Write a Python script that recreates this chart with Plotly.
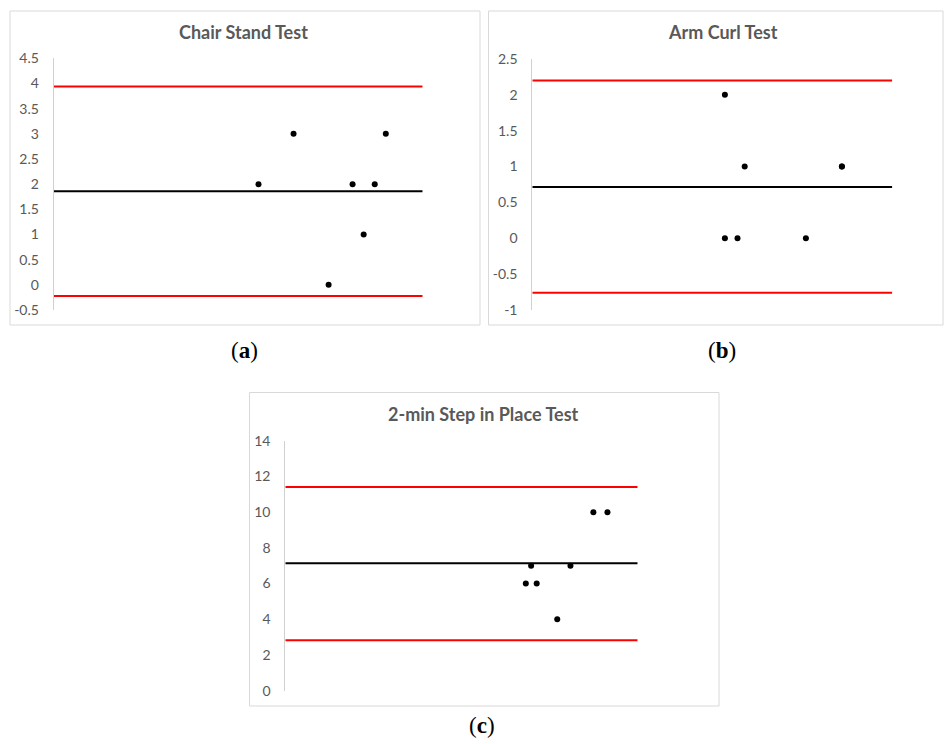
import plotly.graph_objects as go

W, H = 944, 744

# ---------------- data ----------------
titles = ["Chair Stand Test", "Arm Curl Test", "2-min Step in Place Test"]
captions = ["a", "b", "c"]

# (a) Chair Stand Test
a_mean = [11.1, 13.0, 14.9, 16.2, 16.8, 17.4, 18.0]
a_diff = [2, 3, 0, 2, 1, 2, 3]
a_bias = 1.857
a_upper = 3.94
a_lower = -0.22
a_xrange = [0, 20]
a_ticks = [-0.5, 0, 0.5, 1, 1.5, 2, 2.5, 3, 3.5, 4, 4.5]
a_ticktext = ["-0.5", "0", "0.5", "1", "1.5", "2", "2.5", "3", "3.5", "4", "4.5"]

# (b) Arm Curl Test
b_mean = [10.7, 11.8, 17.2, 17.2, 10.7, 11.4, 15.2]
b_diff = [2, 1, 1, 1, 0, 0, 0]
b_bias = 0.714
b_upper = 2.20
b_lower = -0.76
b_xrange = [0, 20]
b_ticks = [-1, -0.5, 0, 0.5, 1, 1.5, 2, 2.5]
b_ticktext = ["-1", "-0.5", "0", "0.5", "1", "1.5", "2", "2.5"]

# (c) 2-min Step in Place Test
c_mean = [81.9, 83.7, 85.6, 92.6, 97.1, 104.9, 109.7]
c_diff = [6, 7, 6, 4, 7, 10, 10]
c_bias = 7.14
c_upper = 11.41
c_lower = 2.82
c_xrange = [0, 120]
c_ticks = [0, 2, 4, 6, 8, 10, 12, 14]
c_ticktext = ["0", "2", "4", "6", "8", "10", "12", "14"]

# ---------------- layout geometry (pixels) ----------------
panels = [
    dict(mean=a_mean, diff=a_diff, bias=a_bias, up=a_upper, lo=a_lower, xr=a_xrange,
         ticks=a_ticks, tt=a_ticktext,
         plot=(53.7, 422.7, 58.3, 310.0), box=(10, 480, 11, 325), title_xy=(244, 32),
         cap_xy=(245, 350)),
    dict(mean=b_mean, diff=b_diff, bias=b_bias, up=b_upper, lo=b_lower, xr=b_xrange,
         ticks=b_ticks, tt=b_ticktext,
         plot=(532.3, 892.3, 59.0, 310.0), box=(488.5, 943, 11, 325), title_xy=(723, 32),
         cap_xy=(722, 350)),
    dict(mean=c_mean, diff=c_diff, bias=c_bias, up=c_upper, lo=c_lower, xr=c_xrange,
         ticks=c_ticks, tt=c_ticktext,
         plot=(285.3, 637.7, 440.7, 690.7), box=(249.5, 719, 392.5, 706), title_xy=(484, 414),
         cap_xy=(482, 725)),
]

def px(x):
    return x / W

def py(y):
    return 1 - y / H

fig = go.Figure()
shapes, annotations = [], []
GRAY_TXT = "#595959"

for i, p in enumerate(panels):
    n = "" if i == 0 else str(i + 1)
    xa, ya = "x" + n, "y" + n
    x0, x1, y0, y1 = p["plot"]
    ymin, ymax = p["ticks"][0], p["ticks"][-1]
    xr = p["xr"]

    # limits of agreement and bias lines
    for val, col in [(p["up"], "#ff0000"), (p["lo"], "#ff0000"), (p["bias"], "#000000")]:
        fig.add_trace(go.Scatter(x=xr, y=[val, val], mode="lines",
                                 line=dict(color=col, width=2),
                                 xaxis=xa, yaxis=ya, showlegend=False, hoverinfo="skip"))
    fig.add_trace(go.Scatter(x=p["mean"], y=p["diff"], mode="markers",
                             marker=dict(color="#000000", size=6),
                             xaxis=xa, yaxis=ya, showlegend=False, cliponaxis=False))

    fig.layout["xaxis" + n] = dict(domain=[px(x0), px(x1)], range=xr, visible=False,
                                   anchor=ya, fixedrange=True, automargin=False)
    fig.layout["yaxis" + n] = dict(domain=[py(y1), py(y0)], range=[ymin, ymax],
                                   anchor=xa, tickvals=p["ticks"], ticktext=p["tt"],
                                   showgrid=False, zeroline=False, showline=True,
                                   linecolor="#d0d0d0", linewidth=1, ticks="",
                                   ticklabelstandoff=11, automargin=False,
                                   tickfont=dict(family="Lato", size=14, color=GRAY_TXT),
                                   fixedrange=True)

    bx0, bx1, by0, by1 = p["box"]
    shapes.append(dict(type="rect", xref="paper", yref="paper",
                       x0=px(bx0), x1=px(bx1), y0=py(by1), y1=py(by0),
                       line=dict(color="#d9d9d9", width=1), fillcolor="rgba(0,0,0,0)"))
    tx, ty = p["title_xy"]
    annotations.append(dict(text="<b>" + titles[i] + "</b>", xref="paper", yref="paper",
                            x=px(tx), y=py(ty), xanchor="center", yanchor="middle",
                            showarrow=False,
                            font=dict(family="Lato", size=18, color=GRAY_TXT)))
    cx, cy = p["cap_xy"]
    annotations.append(dict(text="(<b>" + captions[i] + "</b>)", xref="paper", yref="paper",
                            x=px(cx), y=py(cy), xanchor="center", yanchor="middle",
                            showarrow=False,
                            font=dict(family="Liberation Serif", size=23, color="#000000")))

fig.update_layout(width=W, height=H, margin=dict(l=0, r=0, t=0, b=0, autoexpand=False),
                  paper_bgcolor="white", plot_bgcolor="rgba(0,0,0,0)",
                  shapes=shapes, annotations=annotations, showlegend=False)

fig.write_html("out.html", config={"displayModeBar": False},
               post_script="document.body.style.margin='0px';document.body.style.padding='0px';"
                           "document.documentElement.style.overflow='hidden';")
